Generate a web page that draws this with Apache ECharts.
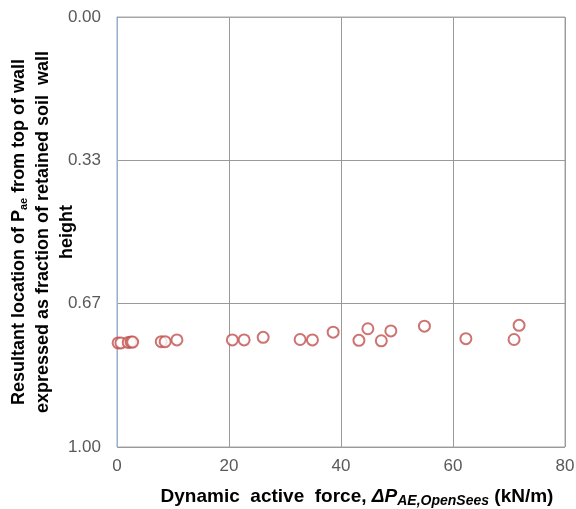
<!DOCTYPE html>
<html>
<head>
<meta charset="utf-8">
<script src="https://cdn.jsdelivr.net/npm/echarts@6/dist/echarts.min.js"></script>
<style>
html,body{margin:0;padding:0;background:#fff;}
#chart{width:576px;height:509px;}
</style>
</head>
<body>
<div id="chart"></div>
<script>
// Dynamic active force (kN/m)
var forceValues = [0.2, 0.7, 2.0, 2.5, 2.8, 7.9, 8.6, 10.7, 20.6, 22.7, 26.1, 32.7, 34.9, 38.6, 43.2, 44.8, 47.2, 48.9, 54.9, 62.3, 70.9, 71.8];
// Resultant location as fraction of wall height
var locationValues = [0.758, 0.758, 0.757, 0.756, 0.756, 0.755, 0.755, 0.751, 0.751, 0.751, 0.745, 0.750, 0.751, 0.733, 0.752, 0.725, 0.753, 0.730, 0.719, 0.748, 0.750, 0.717];
var yTickValues = [0, 1/3, 2/3, 1];
var xTickValues = [0, 20, 40, 60, 80];

var points = forceValues.map(function (x, i) { return [x, locationValues[i]]; });

var chart = echarts.init(document.getElementById('chart'), null, {renderer: 'canvas'});
var labelFont = 'Arial, "Liberation Sans", sans-serif';
chart.setOption({
  animation: false,
  backgroundColor: '#ffffff',
  grid: {
    left: 117, right: 11, top: 17, bottom: 62,
    containLabel: false, outerBoundsMode: 'none',
    show: true, borderColor: '#a6a6a6', borderWidth: 1, backgroundColor: 'transparent'
  },
  xAxis: {
    type: 'value',
    min: xTickValues[0], max: xTickValues[xTickValues.length - 1], interval: 20,
    axisLine: {show: true, lineStyle: {color: '#a6a6a6', width: 1}},
    axisTick: {show: false},
    splitLine: {show: true, lineStyle: {color: '#9a9a9a', width: 1}},
    axisLabel: {color: '#595959', fontSize: 17, fontFamily: labelFont, margin: 11},
    name: '{b|Dynamic  active  force, }{bi|ΔP}{sub|AE,OpenSees}{b| (kN/m)}',
    nameLocation: 'middle',
    nameGap: 38,
    nameMoveOverlap: false,
    nameTextStyle: {
      padding: [0, 0, 0, 32],
      rich: {
        b: {fontSize: 19, fontWeight: 'bold', color: '#000', fontFamily: labelFont},
        bi: {fontSize: 19, fontWeight: 'bold', fontStyle: 'italic', color: '#000', fontFamily: labelFont},
        sub: {fontSize: 14, fontWeight: 'bold', fontStyle: 'italic', color: '#000', fontFamily: labelFont, padding: [9, 0, 0, 0]}
      }
    }
  },
  yAxis: {
    type: 'value',
    inverse: true,
    min: 0, max: 1, interval: 1/3,
    axisLine: {show: true, lineStyle: {color: '#8db3e2', width: 1}},
    axisTick: {show: false},
    splitLine: {show: true, lineStyle: {color: '#9a9a9a', width: 1}},
    axisLabel: {
      color: '#595959', fontSize: 17, fontFamily: labelFont, margin: 16,
      formatter: function (v) { return v.toFixed(2); }
    },
    name: '{b|Resultant location of P}{sub|ae}{b| from top of wall}\n{b|expressed as fraction of retained soil  wall}\n{b|height}',
    nameLocation: 'middle',
    nameRotate: 90,
    nameGap: 38,
    nameMoveOverlap: false,
    nameTextStyle: {
      align: 'center',
      lineHeight: 24,
      rich: {
        b: {fontSize: 18, fontWeight: 'bold', color: '#000', fontFamily: labelFont, lineHeight: 24},
        sub: {fontSize: 11, fontWeight: 'bold', color: '#000', fontFamily: labelFont, lineHeight: 24, padding: [9, 0, 0, 0]}
      }
    }
  },
  series: [{
    type: 'scatter',
    data: points,
    symbol: 'emptyCircle',
    symbolSize: 11,
    itemStyle: {color: '#c0504d', borderWidth: 1.8}
  }]
});
</script>
</body>
</html>
